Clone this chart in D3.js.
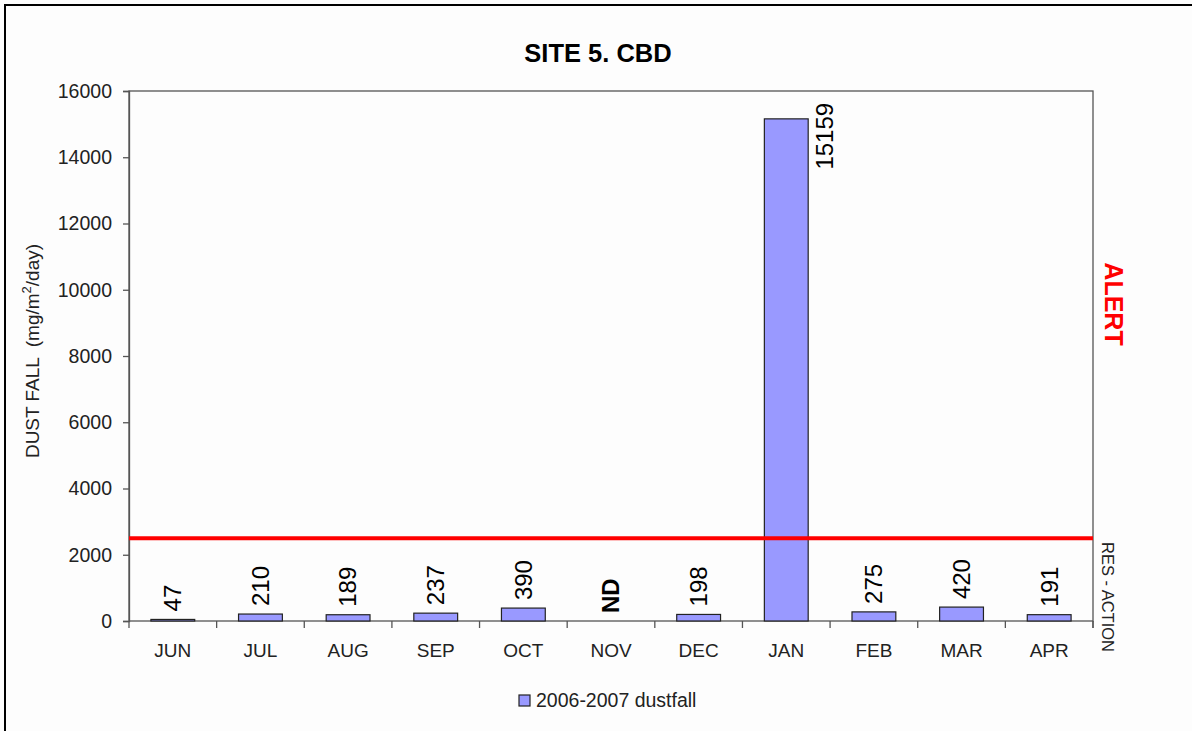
<!DOCTYPE html>
<html><head><meta charset="utf-8">
<script src="https://cdn.jsdelivr.net/npm/d3@7"></script>
<style>
html,body{margin:0;padding:0;background:#fdfdfd;}
text{font-family:"Liberation Sans",Arial,sans-serif;white-space:pre;}
</style></head>
<body><svg id="c" width="1192" height="731"></svg>
<script>
const months = ["JUN","JUL","AUG","SEP","OCT","NOV","DEC","JAN","FEB","MAR","APR"];
const dustfall = [47,210,189,237,390,null,198,15159,275,420,191];
const yTicks = [0,2000,4000,6000,8000,10000,12000,14000,16000];
const alertLevel = 2500;
const title = "SITE 5. CBD";
const seriesName = "2006-2007 dustfall";

const svg = d3.select("#c");
svg.append("rect").attr("x",0).attr("y",0).attr("width",1192).attr("height",731).attr("fill","#fdfdfd");
svg.append("path").attr("d","M5,731 L5,5 L1192,5").attr("fill","none").attr("stroke","#000").attr("stroke-width",2);

const L=129, R=1093, T=91, B=621;
const x = d3.scaleBand().domain(months).range([L,R]).paddingInner(0).paddingOuter(0);
const y = d3.scaleLinear().domain([0,16000]).range([B,T]);

// plot frame
svg.append("rect").attr("x",L).attr("y",T).attr("width",R-L).attr("height",B-T)
  .attr("fill","none").attr("stroke","#555").attr("stroke-width",1.3);

// bars
const bw = x.bandwidth()*0.5;
svg.selectAll("rect.bar").data(months.map((m,i)=>({m,v:dustfall[i]})).filter(d=>d.v!=null))
 .enter().append("rect").attr("class","bar")
 .attr("x",d=>x(d.m)+x.bandwidth()/2-bw/2).attr("width",bw)
 .attr("y",d=>y(d.v)).attr("height",d=>B-y(d.v))
 .attr("fill","#9999ff").attr("stroke","#222").attr("stroke-width",1.2);

// left axis
const ya = d3.axisLeft(y).tickValues(yTicks).tickSize(6).tickPadding(11).tickFormat(d3.format("d"));
const gy = svg.append("g").attr("transform",`translate(${L},0)`).call(ya);
gy.select(".domain").attr("stroke","#555").attr("stroke-width",1.3);
gy.selectAll(".tick line").attr("stroke","#555").attr("stroke-width",1.3);
gy.selectAll(".tick text").attr("font-size",19.5).attr("fill","#222").attr("font-family","Liberation Sans, Arial");

// bottom axis: ticks at band boundaries
const xa = svg.append("g");
const bounds = months.map(m=>x(m)).concat([R]);
xa.selectAll("line").data(bounds).enter().append("line")
 .attr("x1",d=>d).attr("x2",d=>d).attr("y1",B).attr("y2",B+7)
 .attr("stroke","#555").attr("stroke-width",1.3);
xa.selectAll("text").data(months).enter().append("text")
 .attr("x",d=>x(d)+x.bandwidth()/2).attr("y",B+36).attr("text-anchor","middle")
 .attr("font-size",19).attr("fill","#222").text(d=>d);

// right axis tick
svg.append("line").attr("x1",R).attr("x2",R).attr("y1",B).attr("y2",B+7).attr("stroke","#555").attr("stroke-width",1.3);

// alert line
svg.append("line").attr("x1",L).attr("x2",R).attr("y1",y(alertLevel)).attr("y2",y(alertLevel))
 .attr("stroke","#ff0000").attr("stroke-width",4);

// value labels
months.forEach((m,i)=>{
  const v = dustfall[i];
  const cx = x(m)+x.bandwidth()/2;
  const label = v==null ? "ND" : String(v);
  const top = v==null ? B : y(v);
  const t = svg.append("text").attr("font-size",24).attr("fill","#000")
    .attr("font-weight", v==null ? "bold" : "normal").text(label);
  if (v!=null && top - 8 - 70 < T) {
    t.attr("transform",`translate(${cx+bw/2+16},${top-16}) rotate(-90)`).attr("text-anchor","end").attr("dy","0.35em");
  } else {
    t.attr("transform",`translate(${cx},${top-8}) rotate(-90)`).attr("text-anchor","start").attr("dy","0.35em");
  }
});

// title
svg.append("text").attr("x",598).attr("y",62).attr("text-anchor","middle")
 .attr("font-size",25.5).attr("font-weight","bold").attr("fill","#000").text(title);

// y label
const yl = svg.append("text").attr("transform",`translate(39,${(T+B)/2-5}) rotate(-90)`)
 .attr("text-anchor","middle").attr("font-size",19).attr("fill","#222");
yl.append("tspan").text("DUST FALL  (mg/m");
yl.append("tspan").attr("font-size",13).attr("dy",-8).text("2");
yl.append("tspan").attr("dy",8).text("/day)");

// right labels
svg.append("text").attr("transform",`translate(1105,304) rotate(90)`).attr("text-anchor","middle")
 .attr("font-size",25).attr("font-weight","bold").attr("fill","#ff0000").text("ALERT");
svg.append("text").attr("transform",`translate(1102,597) rotate(90)`).attr("text-anchor","middle")
 .attr("font-size",16.5).attr("fill","#222").text("RES - ACTION");

// legend
svg.append("rect").attr("x",519).attr("y",695).attr("width",11).attr("height",11)
 .attr("fill","#9999ff").attr("stroke","#222").attr("stroke-width",1.2);
svg.append("text").attr("x",536).attr("y",707).attr("font-size",19.5).attr("fill","#222").text(seriesName);
</script></body></html>
